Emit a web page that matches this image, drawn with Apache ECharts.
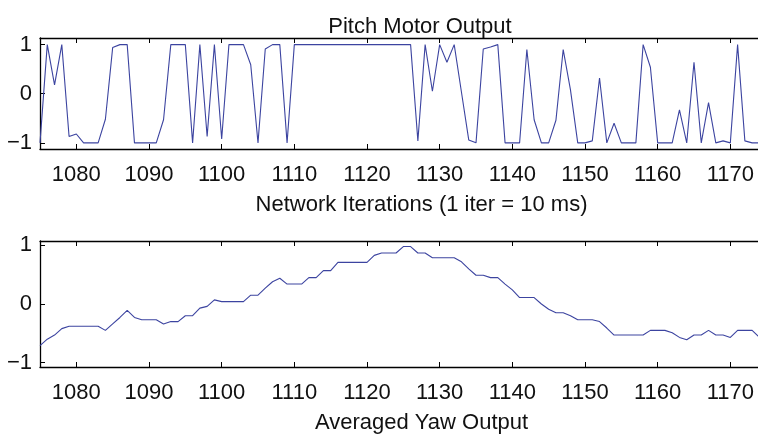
<!DOCTYPE html>
<html>
<head>
<meta charset="utf-8">
<script src="https://cdn.jsdelivr.net/npm/echarts@6/dist/echarts.min.js"></script>
<style>
html,body{margin:0;padding:0;background:#fff;}
#chart{width:758px;height:435px;}
</style>
</head>
<body>
<div id="chart"></div>
<script>
// ---- data ----
const iterStart = 1075;
const pitchValues = [
  -1, 1, 0.18, 1, -0.87, -0.82, -1, -1, -1, -0.52,      // 1075-1084
  0.94, 1, 1, -1, -1, -1, -1, -0.53, 1, 1,              // 1085-1094
  1, -1, 1, -0.87, 1, -0.92, 1, 1, 1, 0.59,             // 1095-1104
  -1, 0.91, 1, 1, -1, 1, 1, 1, 1, 1,                    // 1105-1114
  1, 1, 1, 1, 1, 1, 1, 1, 1, 1,                         // 1115-1124
  1, 1, -0.96, 1, 0.05, 1, 0.64, 1, 0.03, -0.94,        // 1125-1134
  -1, 0.91, 0.95, 1, -1, -1, -1, 0.90, -0.53, -1,       // 1135-1144
  -1, -0.54, 0.90, 0.08, -1, -1, -0.96, 0.32, -1, -0.6, // 1145-1154
  -1, -1, -1, 1, 0.54, -1, -1, -1, -0.33, -1,           // 1155-1164
  0.64, -1, -0.18, -1, -0.96, -1, 1, -0.96, -1, -1,     // 1165-1174
  -1                                                    // 1175
];
const yawValues = [
  -0.71, -0.60, -0.53, -0.42, -0.38, -0.38, -0.38, -0.38, -0.38, -0.45, // 1075-1084
  -0.34, -0.23, -0.11, -0.23, -0.27, -0.27, -0.27, -0.34, -0.30, -0.30, // 1085-1094
  -0.20, -0.20, -0.07, -0.04, 0.07, 0.04, 0.04, 0.04, 0.04, 0.15,       // 1095-1104
  0.15, 0.27, 0.38, 0.44, 0.34, 0.34, 0.34, 0.45, 0.45, 0.57,           // 1105-1114
  0.57, 0.71, 0.71, 0.71, 0.71, 0.71, 0.83, 0.87, 0.87, 0.87,           // 1115-1124
  0.98, 0.98, 0.87, 0.87, 0.79, 0.79, 0.79, 0.79, 0.72, 0.60,           // 1125-1134
  0.49, 0.49, 0.45, 0.45, 0.34, 0.24, 0.11, 0.11, 0.11, 0.00,           // 1135-1144
  -0.09, -0.15, -0.15, -0.20, -0.27, -0.27, -0.27, -0.30, -0.41, -0.53, // 1145-1154
  -0.53, -0.53, -0.53, -0.53, -0.45, -0.45, -0.45, -0.49, -0.57, -0.61, // 1155-1164
  -0.53, -0.53, -0.45, -0.53, -0.53, -0.57, -0.45, -0.45, -0.45, -0.57, // 1165-1174
  -0.60                                                                 // 1175
];
const xTicks = [1080, 1090, 1100, 1110, 1120, 1130, 1140, 1150, 1160, 1170];
const yTicks = [-1, 0, 1];
const titleText = 'Pitch Motor Output';
const xName1 = 'Network Iterations (1 iter = 10 ms)';
const xName2 = 'Averaged Yaw Output';

// ---- build ----
const pitchData = pitchValues.map((v, i) => [iterStart + i, v]);
const yawData = yawValues.map((v, i) => [iterStart + i, v]);

const FONT = '"Liberation Sans", Arial, Helvetica, sans-serif';
const TXT = '#111';
const LINE = '#3c44a0';
const FS = 22;

function xAx(grid, pos, name) {
  const o = {
    type: 'value', gridIndex: grid, position: pos, min: 1075, max: 1180,
    axisLine: { show: true, onZero: false, lineStyle: { color: '#000', width: 1.3 } },
    axisTick: { show: true, inside: true, length: 5, customValues: xTicks, lineStyle: { color: '#000', width: 1 } },
    axisLabel: { show: pos === 'bottom', customValues: xTicks, margin: 15, fontSize: FS, fontFamily: FONT, color: TXT,
      formatter: v => String(v) },
    splitLine: { show: false }
  };
  if (name) {
    o.name = name; o.nameLocation = 'middle'; o.nameGap = 45;
    o.nameTextStyle = { fontSize: FS, fontFamily: FONT, color: TXT };
  }
  return o;
}
function yAx(grid, pos, lo, hi) {
  return {
    type: 'value', gridIndex: grid, position: pos, min: lo, max: hi,
    axisLine: { show: true, onZero: false, lineStyle: { color: '#000', width: 1.3 } },
    axisTick: { show: true, inside: true, length: 5, customValues: yTicks, lineStyle: { color: '#000', width: 1 } },
    axisLabel: { show: pos === 'left', customValues: yTicks, margin: 8, fontSize: FS, fontFamily: FONT, color: TXT,
      formatter: v => String(v).replace('-', '\u2212') },
    splitLine: { show: false }
  };
}

const chart = echarts.init(document.getElementById('chart'), null, { renderer: 'canvas' });
chart.setOption({
  animation: false,
  backgroundColor: '#fff',
  title: {
    text: titleText, left: 415, top: 11, textAlign: 'center',
    textStyle: { fontSize: FS, fontWeight: 'normal', fontFamily: FONT, color: TXT }
  },
  grid: [
    { left: 40, top: 38, width: 763, height: 111, show: false, outerBoundsMode: 'none', containLabel: false },
    { left: 40, top: 241, width: 763, height: 126, show: false, outerBoundsMode: 'none', containLabel: false }
  ],
  xAxis: [
    xAx(0, 'bottom', xName1), xAx(0, 'top'),
    xAx(1, 'bottom', xName2), xAx(1, 'top')
  ],
  yAxis: [
    yAx(0, 'left', -1.125, 1.135), yAx(0, 'right', -1.125, 1.135),
    yAx(1, 'left', -1.075, 1.075), yAx(1, 'right', -1.075, 1.075)
  ],
  series: [
    { type: 'line', xAxisIndex: 0, yAxisIndex: 0, data: pitchData, showSymbol: false,
      lineStyle: { color: LINE, width: 1.1 }, silent: true },
    { type: 'line', xAxisIndex: 2, yAxisIndex: 2, data: yawData, showSymbol: false,
      lineStyle: { color: LINE, width: 1.1 }, silent: true }
  ]
});
</script>
</body>
</html>
